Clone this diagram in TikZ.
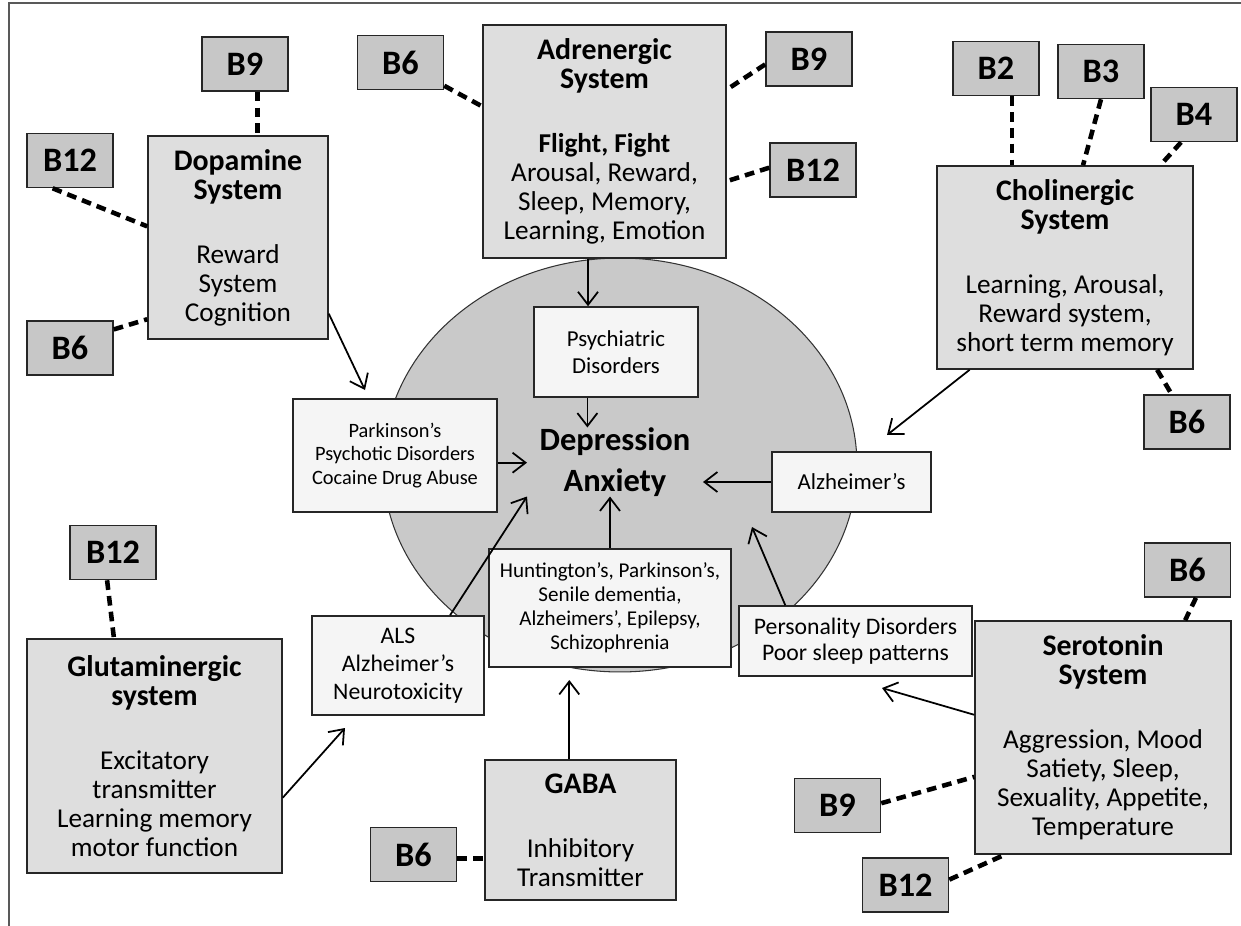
\documentclass[tikz,border=0pt]{standalone}
\usepackage{fontspec}
\setmainfont{Carlito}
\usetikzlibrary{arrows.meta,shapes.geometric}

\definecolor{sysgray}{gray}{0.87}
\definecolor{vitgray}{gray}{0.78}
\definecolor{moodgray}{gray}{0.79}
\definecolor{disgray}{gray}{0.96}
\definecolor{framegray}{gray}{0.35}

\newcommand{\ttl}[1]{{\fontsize{17}{18}\selectfont\bfseries #1}}

\tikzset{
  sysbox/.style={draw=black!85, fill=sysgray, line width=0.9pt, align=center,
    font=\fontsize{15.5}{16.5}\selectfont},
  vitbox/.style={draw=black!85, fill=vitgray, line width=0.9pt,
    minimum width=1.72cm, minimum height=1.08cm,
    font=\fontsize{19.5}{19.5}\selectfont\bfseries},
  disbox/.style={draw=black!85, fill=disgray, line width=0.9pt, align=center},
  vitlink/.style={line width=2.6pt, dash pattern=on 5.5pt off 3.5pt},
  effect/.style={line width=1pt, -{Straight Barb[length=2.6mm,width=4mm]}},
}

\begin{document}
\begin{tikzpicture}[x=0.02cm,y=-0.02cm]
    \useasboundingbox (0,0) rectangle (1241,926);
    \draw[framegray, line width=1.2pt] (9,926) -- (9,3) -- (1241,3);

    % the mood disorders in the middle
    \node[ellipse, draw=black!80, fill=moodgray, line width=0.6pt,
      minimum width=9.48cm, minimum height=8.28cm] (mood) at (620,465) {};
    \node[font=\fontsize{18.5}{23}\selectfont\bfseries, align=center,
      inner xsep=7pt, inner ysep=0pt] (dep) at (615,462) {Depression\\Anxiety};

    % transmitter systems
    \node[sysbox, minimum width=3.6cm, minimum height=4.06cm] (dopa) at (238,237.5)
      {\ttl{Dopamine}\\\ttl{System}\\[20pt]Reward\\System\\Cognition};
    \node[sysbox, minimum width=4.86cm, minimum height=4.66cm] (adre) at (604.5,141.5)
      {\ttl{Adrenergic}\\\ttl{System}\\[20pt]\textbf{Flight, Fight}\\Arousal, Reward,\\Sleep, Memory,\\Learning, Emotion};
    \node[sysbox, minimum width=5.12cm, minimum height=4.06cm] (chol) at (1065,267.5)
      {\ttl{Cholinergic}\\\ttl{System}\\[20pt]Learning, Arousal,\\Reward system,\\short term memory};
    \node[sysbox, minimum width=5.1cm, minimum height=4.68cm] (glut) at (154.5,756)
      {\ttl{Glutaminergic}\\\ttl{system}\\[20pt]Excitatory\\transmitter\\Learning memory\\motor function};
    \node[sysbox, minimum width=3.82cm, minimum height=2.8cm] (gaba) at (580.5,830)
      {\ttl{GABA}\\[20pt]Inhibitory\\Transmitter};
    \node[sysbox, minimum width=5.12cm, minimum height=4.66cm] (sero) at (1103,737.5)
      {\ttl{Serotonin}\\\ttl{System}\\[20pt]Aggression, Mood\\Satiety, Sleep,\\Sexuality, Appetite,\\Temperature};

    % disorders
    \node[disbox, minimum width=3.28cm, minimum height=1.8cm,
      font=\fontsize{13}{15}\selectfont] (psych) at (616,352) {Psychiatric\\Disorders};
    \node[disbox, minimum width=4.08cm, minimum height=2.26cm,
      font=\fontsize{11.6}{13.6}\selectfont] (park) at (395,455.5)
      {Parkinson’s\\Psychotic Disorders\\Cocaine Drug Abuse};
    \node[disbox, minimum width=3.18cm, minimum height=1.2cm,
      font=\fontsize{13}{15}\selectfont] (alz) at (851.5,482) {Alzheimer’s};
    \node[disbox, minimum width=4.84cm, minimum height=2.36cm,
      font=\fontsize{12}{13.6}\selectfont] (hunt) at (610,608)
      {Huntington’s, Parkinson’s,\\Senile dementia,\\Alzheimers’, Epilepsy,\\Schizophrenia};
    \node[disbox, minimum width=3.44cm, minimum height=1.98cm,
      font=\fontsize{13.5}{16}\selectfont] (als) at (398,665.5)
      {ALS\\Alzheimer’s\\Neurotoxicity};
    \node[disbox, minimum width=4.66cm, minimum height=1.4cm,
      font=\fontsize{13.5}{15}\selectfont] (pers) at (855.5,641)
      {Personality Disorders\\Poor sleep patterns};

    % vitamins
    \node[vitbox] (b9a) at (245,64) {B9};
    \node[vitbox] (b12a) at (70,160.5) {B12};
    \node[vitbox] (b6a) at (70,348) {B6};
    \node[vitbox] (b6b) at (400.5,62.5) {B6};
    \node[vitbox] (b9b) at (809,59) {B9};
    \node[vitbox] (b12b) at (813,170) {B12};
    \node[vitbox] (b2) at (996,68.5) {B2};
    \node[vitbox] (b3) at (1101,71.5) {B3};
    \node[vitbox] (b4) at (1194,114.5) {B4};
    \node[vitbox] (b6c) at (1187,422) {B6};
    \node[vitbox] (b12c) at (113,552.5) {B12};
    \node[vitbox] (b6d) at (413.5,854.5) {B6};
    \node[vitbox] (b6e) at (1187.5,570) {B6};
    \node[vitbox] (b9c) at (837.5,805.5) {B9};
    \node[vitbox] (b12d) at (905.5,885) {B12};

    \draw[vitlink] (b9a.294) -- (b9a.294 |- dopa.north);
    \draw[vitlink] (b12a.238) -- (dopa.173);
    \draw[vitlink] (b6a.23) -- (dopa.222);
    \draw[vitlink] (b6b.332) -- (adre.164);
    \draw[vitlink] (b9b.187) -- (adre.23);
    \draw[vitlink] (b12b.177) -- (adre.342);
    \draw[vitlink] (b2.300) -- (b2.300 |- chol.north);
    \draw[vitlink] (b3.south) -- (chol.80);
    \draw[vitlink] (b4.245) -- (chol.47);
    \draw[vitlink] (chol.312) -- (b6c.119);
    \draw[vitlink] (b12c.258) -- (glut.109);
    \draw[vitlink] (b6d.355) -- (b6d.355 -| gaba.west);
    \draw[vitlink] (b6e.287) -- (sero.55);
    \draw[vitlink] (b9c.3) -- (sero.197);
    \draw[vitlink] (b12d.7) -- (sero.230);

    % arrows
    \coordinate (parktip) at (365,390);
    \coordinate (alztip) at (887,435);
    \coordinate (alstip) at (345,728);
    \coordinate (hunttip) at (568,680);
    \coordinate (perstip) at (882,688);
    \coordinate (moodtip) at (752,527);
    \draw[effect] (adre.262) -- (adre.262 |- psych.north);
    \draw[effect] (psych.238) -- (psych.238 |- dep.north);
    \draw[effect] (park.356) -- (park.356 -| dep.west);
    \draw[effect] (als.44) -- (dep.south west);
    \draw[effect] (hunt.north) -- (hunt.north |- dep.south);
    \draw[effect] (alz.west) -- (alz.west -| dep.east);
    \draw[effect] (pers.153) -- (moodtip);
    \draw[effect] (dopa.320) -- (parktip);
    \draw[effect] (chol.227) -- (alztip);
    \draw[effect] (glut.342) -- (alstip);
    \draw[effect] (gaba.99) -- (gaba.99 |- hunttip);
    \draw[effect] (sero.170) -- (perstip);
\end{tikzpicture}
\end{document}
